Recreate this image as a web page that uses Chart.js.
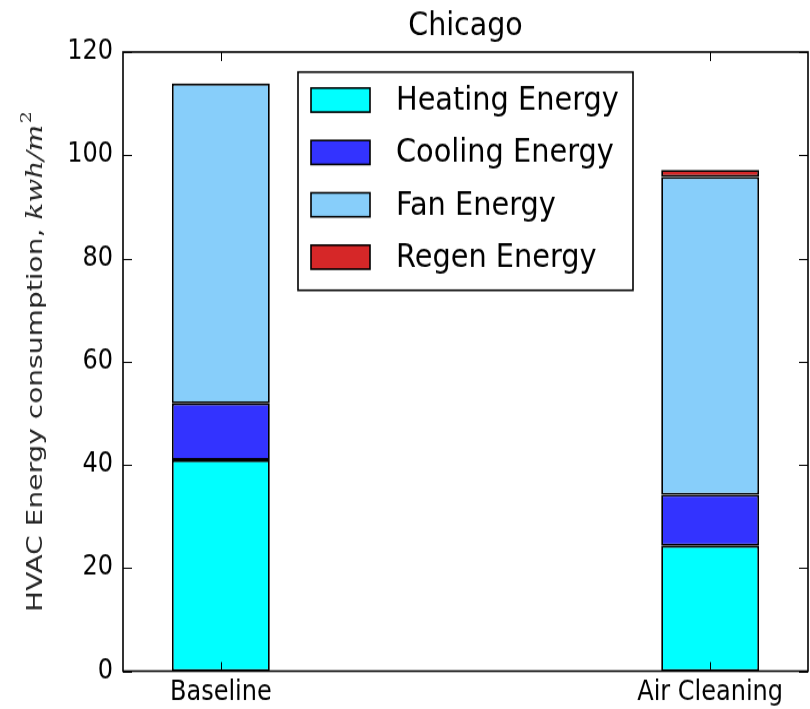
<!DOCTYPE html>
<html>
<head>
<meta charset="utf-8">
<script src="https://cdn.jsdelivr.net/npm/chart.js@4"></script>
<style>
html,body{margin:0;padding:0;background:#fff;overflow:hidden;}
canvas{display:block;}
</style>
</head>
<body>
<canvas id="c" width="810" height="627" style="width:810px;height:709px;"></canvas>
<script>
const categories = ['Baseline', 'Air Cleaning'];
const categoryPositions = [0, 1];
const heatingEnergy = [40.9, 24.3];
const coolingEnergy = [11.0, 9.9];
const fanEnergy = [62.0, 61.6];
const regenEnergy = [0, 1.35];
const yTicks = [0, 20, 40, 60, 80, 100, 120];
const seriesNames = ['Heating Energy', 'Cooling Energy', 'Fan Energy', 'Regen Energy'];
const seriesColors = ['#00ffff', '#3333ff', '#87cefa', '#d62728'];

const FONT = "'DejaVu Sans', sans-serif";
const pts = arr => arr.map((v, i) => ({x: categoryPositions[i], y: v}));

const seriesValues = [heatingEnergy, coolingEnergy, fanEnergy, regenEnergy];
const datasets = seriesNames.map((name, k) => ({
  label: name,
  data: pts(seriesValues[k]).filter(p => p.y > 0),
  backgroundColor: seriesColors[k],
  borderColor: '#000',
  borderWidth: 1.8,
  borderSkipped: false,
  categoryPercentage: 1,
  barPercentage: 0.2
}));

const framePlugin = {
  id: 'frame',
  afterDatasetsDraw(chart) {
    const {ctx, chartArea: a, scales} = chart;
    ctx.save();
    ctx.strokeStyle = '#000';
    ctx.lineWidth = 1.6;
    ctx.strokeRect(a.left, a.top, a.right - a.left, a.bottom - a.top);
    ctx.lineWidth = 1;
    ctx.beginPath();
    scales.y.ticks.forEach(t => {
      const y = Math.round(scales.y.getPixelForValue(t.value)) + 0.5;
      ctx.moveTo(a.left, y); ctx.lineTo(a.left + 9, y);
      ctx.moveTo(a.right, y); ctx.lineTo(a.right - 9, y);
    });
    scales.x.ticks.forEach(t => {
      const x = Math.round(scales.x.getPixelForValue(t.value)) + 0.5;
      ctx.moveTo(x, a.bottom); ctx.lineTo(x, a.bottom - 8);
      ctx.moveTo(x, a.top); ctx.lineTo(x, a.top + 8);
    });
    ctx.stroke();

    // title
    ctx.fillStyle = '#000';
    ctx.font = '28.5px ' + FONT;
    ctx.textAlign = 'center';
    ctx.textBaseline = 'middle';
    ctx.fillText('Chicago', (a.left + a.right) / 2, 24);

    // legend (upper center)
    const ds = chart.data.datasets;
    const bw = 335, bh = 193;
    const bx = (a.left + a.right) / 2 - bw / 2;
    const by = a.top + 17.7;
    ctx.fillStyle = '#fff';
    ctx.fillRect(bx, by, bw, bh);
    ctx.lineWidth = 1.6;
    ctx.strokeRect(bx, by, bw, bh);
    ctx.font = '28.8px ' + FONT;
    ctx.textBaseline = 'middle';
    ctx.textAlign = 'left';
    ds.forEach((d, i) => {
      const cy = by + 24.8 + i * 46.3;
      ctx.fillStyle = d.backgroundColor;
      ctx.fillRect(bx + 13, cy - 10.6, 59, 21.2);
      ctx.lineWidth = 1.6;
      ctx.strokeStyle = '#000';
      ctx.strokeRect(bx + 13, cy - 10.6, 59, 21.2);
      ctx.fillStyle = '#000';
      ctx.fillText(d.label, bx + 98, cy + 1);
    });

    // y-axis title
    ctx.save();
    ctx.translate(36, (a.top + a.bottom) / 2);
    ctx.rotate(-Math.PI / 2);
    ctx.fillStyle = '#262626';
    ctx.textBaseline = 'middle';
    const p1 = 'HVAC Energy consumption, ';
    const f1 = '22px ' + FONT;
    const f2 = 'italic 22px "DejaVu Serif", serif';
    const f3 = '15px "DejaVu Serif", serif';
    ctx.font = f1; const w1 = ctx.measureText(p1).width;
    ctx.font = f2; const w2 = ctx.measureText('kwh/m').width;
    ctx.font = f3; const w3 = ctx.measureText('2').width;
    const total = w1 + w2 + w3 + 1;
    const sx = 443 / total;
    ctx.scale(sx, 1);
    let x0 = -total / 2;
    ctx.textAlign = 'left';
    ctx.font = f1; ctx.fillText(p1, x0, 0);
    ctx.font = f2; ctx.fillText('kwh/m', x0 + w1, 0);
    ctx.font = f3; ctx.fillText('2', x0 + w1 + w2 + 1, -9);
    ctx.restore();
    ctx.restore();
  }
};

new Chart(document.getElementById('c'), {
  type: 'bar',
  data: { datasets },
  options: {
    responsive: false,
    animation: false,
    layout: { padding: { left: 0, right: 2, top: 46, bottom: 0 } },
    plugins: {
      legend: { display: false },
      tooltip: { enabled: false },
      title: { display: false }
    },
    scales: {
      x: {
        type: 'linear', stacked: true, min: -0.2, max: 1.2, offset: false,
        afterBuildTicks: s => { s.ticks = categoryPositions.map(v => ({value: v})); },
        afterFit: s => { s.height = 33.5; },
        grid: { display: false, drawTicks: false },
        border: { display: false },
        ticks: {
          padding: 5, color: '#000', font: { family: FONT, size: 24 },
          autoSkip: false, maxRotation: 0,
          callback: v => categories[categoryPositions.indexOf(v)] ?? ''
        }
      },
      y: {
        type: 'linear', stacked: true, min: 0, max: 120,
        afterBuildTicks: s => { s.ticks = yTicks.map(v => ({value: v})); },
        afterFit: s => { s.width = 123; },
        grid: { display: false, drawTicks: false },
        border: { display: false },
        ticks: { padding: 10, color: '#000', font: { family: FONT, size: 24 } }
      }
    }
  },
  plugins: [framePlugin]
});
</script>
</body>
</html>
